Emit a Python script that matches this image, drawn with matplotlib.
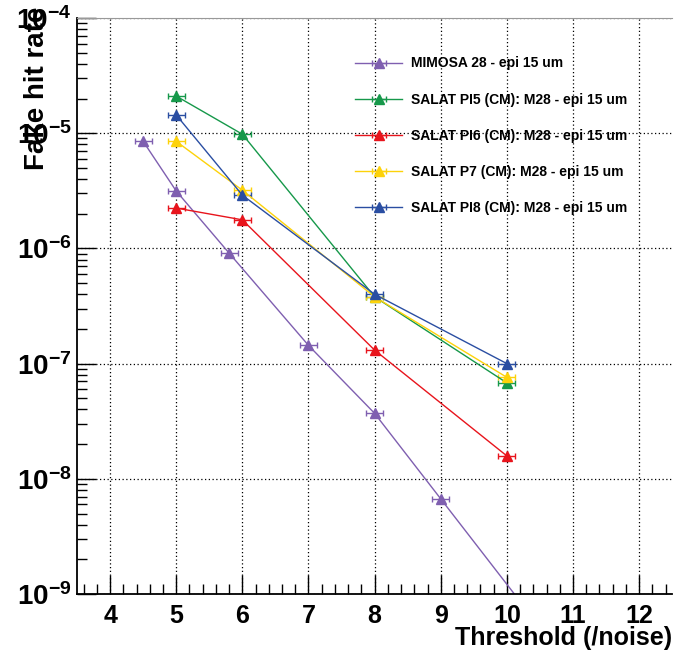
import numpy as np
import matplotlib
matplotlib.use("Agg")
import matplotlib.pyplot as plt
from matplotlib.ticker import LogLocator, MultipleLocator, NullFormatter

plt.rcParams['font.family'] = ['Liberation Sans', 'DejaVu Sans']

# data
mimosa_x = [4.5, 5, 5.8, 7, 8, 9, 11]
mimosa_y = [8.5e-6, 3.15e-6, 9.1e-7, 1.44e-7, 3.7e-8, 6.7e-9, 2.2e-10]

thr = [5, 6, 8, 10]
pi5_y = [2.1e-5, 9.8e-6, 3.8e-7, 6.8e-8]
pi6_y = [2.24e-6, 1.77e-6, 1.31e-7, 1.58e-8]
p7_y = [8.5e-6, 3.2e-6, 3.8e-7, 7.6e-8]
pi8_y = [1.44e-5, 2.9e-6, 4.0e-7, 1.0e-7]

labels = ["MIMOSA 28 - epi 15 um",
          "SALAT PI5 (CM): M28 - epi 15 um",
          "SALAT PI6 (CM): M28 - epi 15 um",
          "SALAT P7 (CM): M28 - epi 15 um",
          "SALAT PI8 (CM): M28 - epi 15 um"]
colors = ["#7f5fb0", "#16984a", "#e8141c", "#fdd20a", "#2a4ea2"]
xerr = 0.13

fig = plt.figure(figsize=(6.79, 6.54), dpi=100)
ax = fig.add_axes([0.1134, 0.0917, 0.8766, 0.8808])

series = [(mimosa_x, mimosa_y)] + [(thr, y) for y in [pi5_y, pi6_y, p7_y, pi8_y]]
for (x, y), c, lab in zip(series, colors, labels):
    ax.errorbar(x, y, xerr=xerr, color=c, lw=1.0, marker='^', ms=7,
                capsize=2.5, elinewidth=1.0, capthick=1.0, label=lab)

ax.set_yscale('log')
ax.set_xlim(3.5, 12.5)
ax.set_ylim(1e-9, 1e-4)

ax.xaxis.set_major_locator(MultipleLocator(1))
ax.xaxis.set_minor_locator(MultipleLocator(0.2))
ax.yaxis.set_major_locator(LogLocator(base=10, numticks=10))
ax.yaxis.set_minor_locator(LogLocator(base=10, subs=np.arange(2, 10), numticks=20))
ax.yaxis.set_minor_formatter(NullFormatter())

ax.tick_params(which='major', direction='in', length=14, width=1, labelsize=18,
               top=False, right=False)
ax.tick_params(which='minor', direction='in', length=7, width=1, top=False, right=False)
ax.tick_params(axis='y', which='major', labelsize=20, pad=4)
ax.tick_params(axis='x', which='major', pad=7)
for lab in ax.get_xticklabels() + ax.get_yticklabels():
    lab.set_fontweight('bold')

ax.grid(True, which='major', linestyle=(0, (1, 2)), color='black', lw=0.9)

ax.spines['left'].set_linewidth(1.3)
ax.spines['bottom'].set_linewidth(1.3)
ax.spines['top'].set_color('#999999')
ax.spines['top'].set_linewidth(0.8)
ax.spines['right'].set_visible(False)

ax.set_xlabel("Threshold (/noise)", fontsize=18, fontweight='bold')
ax.xaxis.set_label_coords(1.0, -0.055)
ax.xaxis.label.set_horizontalalignment('right')
ax.set_ylabel("Fake hit rate", fontsize=20, fontweight='bold')
ax.yaxis.set_label_coords(-0.068, 1.02)
ax.yaxis.label.set_verticalalignment('center')
ax.yaxis.label.set_horizontalalignment('right')

leg = ax.legend(loc='upper left', bbox_to_anchor=(0.458, 0.943), frameon=False,
                borderaxespad=0, prop={'weight': 'bold', 'size': 10},
                labelspacing=1.6, handlelength=3.4, handletextpad=0.6)

fig.savefig("out.png", dpi=100)
